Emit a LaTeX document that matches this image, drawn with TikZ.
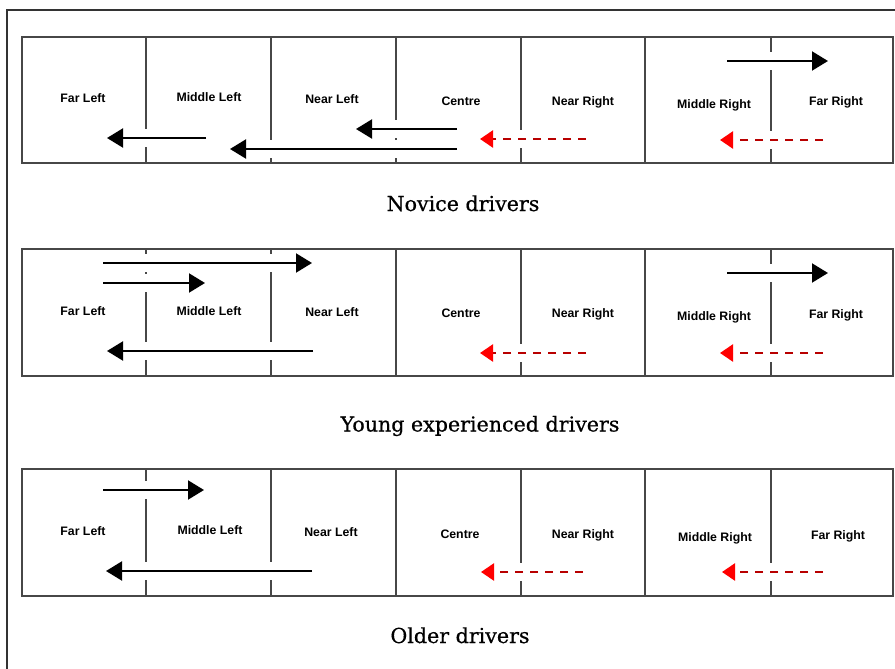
\documentclass[tikz,border=0pt]{standalone}
\usepackage{fontspec}
\newfontfamily\lanefont{Liberation Sans}
\newfontfamily\captionfont{DejaVu Serif}[FakeBold=0.6]
\usetikzlibrary{arrows.meta}

\begin{document}
\begin{tikzpicture}[x=1pt,y=-1pt,
  lane/.style={font=\lanefont\bfseries\fontsize{12.3}{14}\selectfont,anchor=base,inner sep=1pt},
  caption/.style={font=\captionfont\fontsize{20.6}{24}\selectfont,anchor=base},
  road/.style={draw=black!72,line width=1.4pt},
  move/.style={line width=2pt,-{Triangle[length=16pt,width=19pt]},
    preaction={draw=white,solid,line width=18pt,-}},
  back/.style={draw=red!72!black,line width=2.4pt,dash pattern=on 8pt off 7pt,
    -{Triangle[length=13pt,width=17pt,color=red]},
    preaction={draw=white,solid,line width=18pt,-}}]
\useasboundingbox (0,0) rectangle (895,669);
\draw[black!80,line width=1.6pt] (7,669) -- (7,10) -- (895,10);

\draw[road] (22,37) rectangle (893,163) (146,37) -- (146,163) (271,37) -- (271,163)
  (396,37) -- (396,163) (521,37) -- (521,163) (645,37) -- (645,163) (771,37) -- (771,163);
\node[lane] (farleftA) at (83,102.5) {Far Left};
\node[lane] (midleftA) at (209,101.5) {Middle Left};
\node[lane] (nearleftA) at (332,103.5) {Near Left};
\node[lane] (centreA) at (461,105.5) {Centre};
\node[lane] (nearrightA) at (583,105.5) {Near Right};
\node[lane] (midrightA) at (714,108.5) {Middle Right};
\node[lane] (farrightA) at (836,105.5) {Far Right};
\draw[move] (206,138) -- (107,138);
\draw[move] (457,149) -- (230,149);
\draw[move] (457,129) -- (356,129);
\draw[back] (586,139) -- (480,139);
\draw[move] (727,61) -- (828,61);
\draw[back] (823,140) -- (720,140);
\node[caption] (novice) at (463,211) {Novice drivers};

\draw[road] (22,249) rectangle (893,376) (146,249) -- (146,376) (271,249) -- (271,376)
  (396,249) -- (396,376) (521,249) -- (521,376) (645,249) -- (645,376) (771,249) -- (771,376);
\node[lane] (farleftB) at (83,315.5) {Far Left};
\node[lane] (midleftB) at (209,315.5) {Middle Left};
\node[lane] (nearleftB) at (332,316.5) {Near Left};
\node[lane] (centreB) at (461,317.5) {Centre};
\node[lane] (nearrightB) at (583,317.5) {Near Right};
\node[lane] (midrightB) at (714,320.5) {Middle Right};
\node[lane] (farrightB) at (836,318.5) {Far Right};
\draw[move] (103,263) -- (312,263);
\draw[move] (103,283) -- (205,283);
\draw[move] (313,351) -- (107,351);
\draw[back] (586,353) -- (480,353);
\draw[move] (727,273) -- (828,273);
\draw[back] (823,353) -- (720,353);
\node[caption] (young) at (480,431.5) {Young experienced drivers};

\draw[road] (22,469) rectangle (893,596) (146,469) -- (146,596) (271,469) -- (271,596)
  (396,469) -- (396,596) (521,469) -- (521,596) (645,469) -- (645,596) (771,469) -- (771,596);
\node[lane] (farleftC) at (83,535.5) {Far Left};
\node[lane] (midleftC) at (210,534.5) {Middle Left};
\node[lane] (nearleftC) at (331,536.5) {Near Left};
\node[lane] (centreC) at (460,538.5) {Centre};
\node[lane] (nearrightC) at (583,538.5) {Near Right};
\node[lane] (midrightC) at (715,541.5) {Middle Right};
\node[lane] (farrightC) at (838,539.5) {Far Right};
\draw[move] (103,490) -- (204,490);
\draw[move] (312,571) -- (106,571);
\draw[back] (583,572) -- (481,572);
\draw[back] (823,572) -- (722,572);
\node[caption] (older) at (460,643) {Older drivers};
\end{tikzpicture}
\end{document}
